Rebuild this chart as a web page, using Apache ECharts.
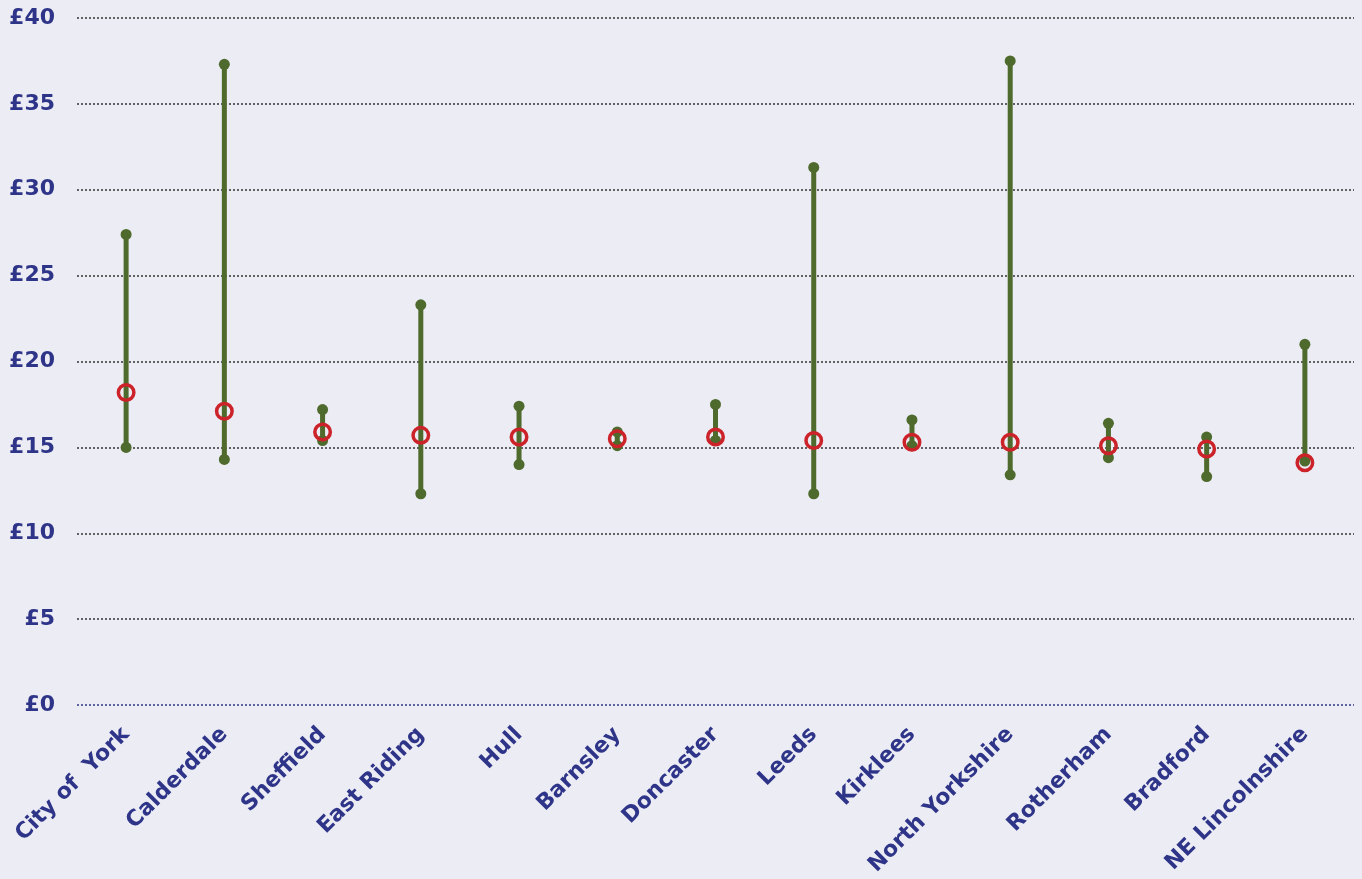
<!DOCTYPE html>
<html><head><meta charset="utf-8">
<script src="https://cdn.jsdelivr.net/npm/echarts@6/dist/echarts.min.js"></script>
<style>html,body{margin:0;padding:0;background:#ECECF4;}#c{width:1362px;height:879px;}</style>
</head><body><div id="c"></div>
<script>
const categories = ['City of  York','Calderdale','Sheffield','East Riding','Hull','Barnsley','Doncaster','Leeds','Kirklees','North Yorkshire','Rotherham','Bradford','NE Lincolnshire'];
const maxValues = [27.4, 37.3, 17.2, 23.3, 17.4, 15.9, 17.5, 31.3, 16.6, 37.5, 16.4, 15.6, 21.0];
const minValues = [15.0, 14.3, 15.4, 12.3, 14.0, 15.1, 15.4, 12.3, 15.1, 13.4, 14.4, 13.3, 14.2];
const midValues = [18.2, 17.1, 15.9, 15.7, 15.6, 15.5, 15.6, 15.4, 15.3, 15.3, 15.1, 14.9, 14.1];
const yTicks = [0, 5, 10, 15, 20, 25, 30, 35, 40];

const navy = '#2E3488';
const green = '#4E6A2C';
const red = '#CC2229';
const FONT = 'DejaVu Sans';

const chart = echarts.init(document.getElementById('c'));
chart.setOption({
  backgroundColor: '#ECECF4',
  animation: false,
  grid: {left: 77, right: 8, top: 18, bottom: 174},
  xAxis: {
    type: 'category', data: categories, boundaryGap: true,
    axisLine: {show: false},
    axisTick: {show: false},
    axisLabel: {rotate: 45, margin: 26, color: navy, fontFamily: FONT, fontWeight: 'bold', fontSize: 22, interval: 0}
  },
  yAxis: {
    type: 'value', min: yTicks[0], max: yTicks[yTicks.length-1], interval: 5,
    axisLine: {show: false}, axisTick: {show: false},
    axisLabel: {margin: 22, color: navy, fontFamily: FONT, fontWeight: 'bold', fontSize: 22, formatter: v => '£' + v},
    splitLine: {show: true, lineStyle: {color: [navy, '#333', '#333', '#333', '#333', '#333', '#333', '#333', '#333'], type: [2, 2], width: 1.5}}
  },
  series: [
    {
      type: 'custom', z: 2,
      data: categories.map((c, i) => [i, minValues[i], maxValues[i]]),
      encode: {x: 0, y: [1, 2]},
      renderItem: function (params, api) {
        const lo = api.coord([api.value(0), api.value(1)]);
        const hi = api.coord([api.value(0), api.value(2)]);
        return {type: 'line', shape: {x1: lo[0], y1: lo[1], x2: hi[0], y2: hi[1]}, style: {stroke: green, lineWidth: 5}};
      }
    },
    {type: 'scatter', z: 3, data: maxValues.map((v, i) => [i, v]), symbol: 'circle', symbolSize: 11, itemStyle: {color: green, opacity: 1}},
    {type: 'scatter', z: 3, data: minValues.map((v, i) => [i, v]), symbol: 'circle', symbolSize: 11, itemStyle: {color: green, opacity: 1}},
    {type: 'scatter', z: 4, data: midValues.map((v, i) => [i, v]), symbol: 'circle', symbolSize: 15.5,
      itemStyle: {color: 'rgba(0,0,0,0)', borderColor: red, borderWidth: 3.5, opacity: 1}}
  ]
});
</script></body></html>
